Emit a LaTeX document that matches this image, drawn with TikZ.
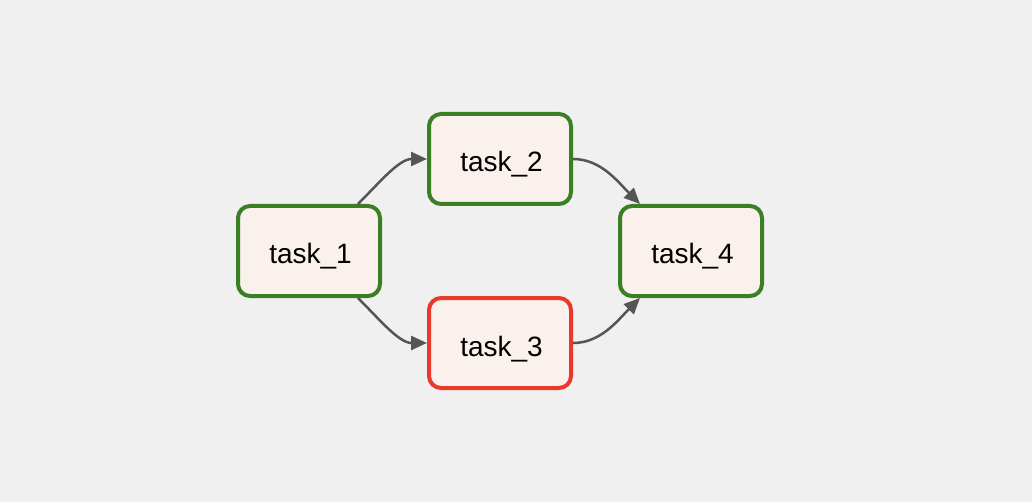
\documentclass[tikz,border=0pt]{standalone}
\usepackage{fontspec}
\setmainfont{Liberation Sans}
\usetikzlibrary{arrows.meta}
\definecolor{bgc}{HTML}{F0F0F0}
\definecolor{fillc}{HTML}{FAF0EC}
\definecolor{okc}{HTML}{3A7F23}
\definecolor{failc}{HTML}{E8392B}
\definecolor{edgec}{HTML}{555555}
\tikzset{
  taskbox/.style={draw=okc, fill=fillc, line width=4pt, rounded corners=12pt,
    minimum width=142pt, minimum height=90pt, inner sep=0pt,
    text height=30pt, text depth=4pt,
    execute at begin node=\hspace*{3pt},
    font=\fontsize{28}{33}\selectfont},
  failbox/.style={taskbox, draw=failc},
  edge/.style={draw=edgec, line width=2.5pt, -{Triangle[length=16pt,width=14pt]}}
}
\begin{document}
\begin{tikzpicture}[x=1pt,y=-1pt]
\useasboundingbox[fill=bgc] (0,0) rectangle (1032,502);
\node[taskbox] (t1) at (309,251) {task\_1};
\node[taskbox] (t2) at (500,159) {task\_2};
\node[failbox] (t3) at (500,343) {task\_3};
\node[taskbox] (t4) at (691,251) {task\_4};
\draw[edge] ([xshift=49pt]t1.north) .. controls +(22,-22) and +(-28,0) .. (t2.west);
\draw[edge] ([xshift=49pt]t1.south) .. controls +(22,22) and +(-28,0) .. (t3.west);
\draw[edge] (t2.east) .. controls +(28,0) and +(-22,-22) .. ([xshift=-51pt]t4.north);
\draw[edge] (t3.east) .. controls +(28,0) and +(-22,22) .. ([xshift=-51pt]t4.south);
\end{tikzpicture}
\end{document}
